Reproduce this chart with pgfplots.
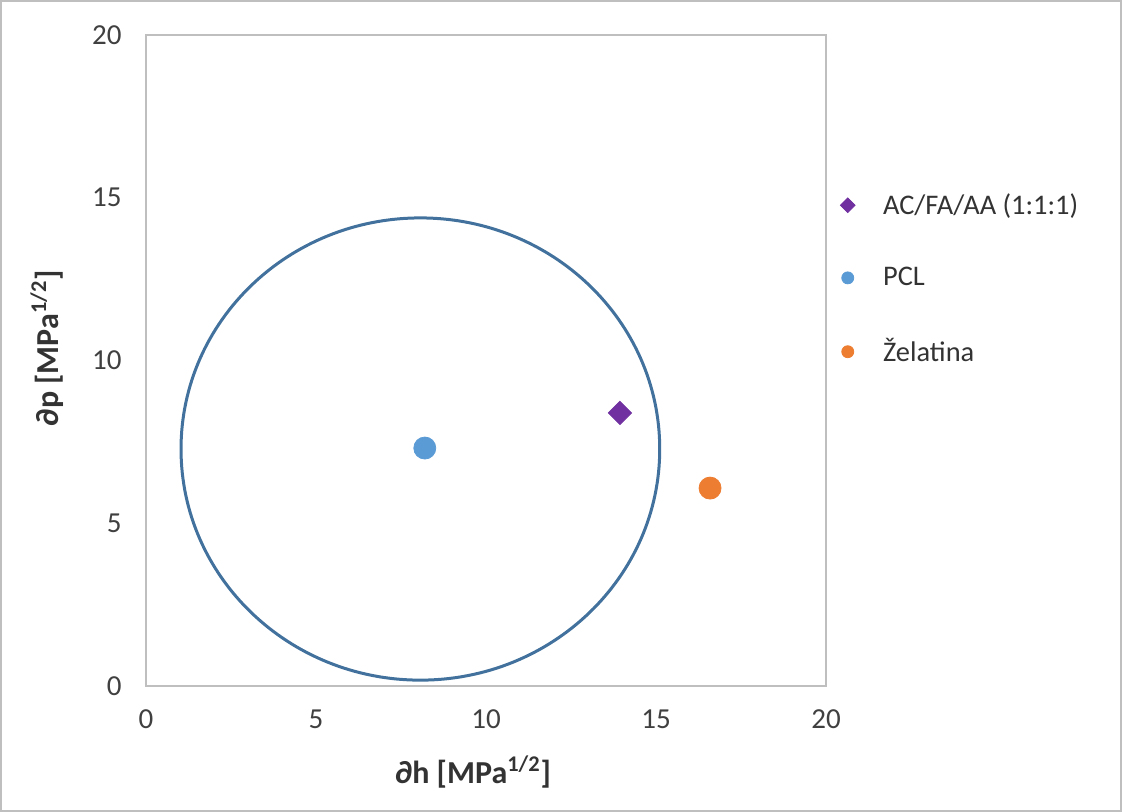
\documentclass[border=0pt]{standalone}
\usepackage{pgfplots}
\pgfplotsset{compat=1.18}
\usepackage{fontspec}
\setmainfont{Carlito}
\definecolor{circ}{HTML}{41719C}
\definecolor{pur}{HTML}{7030A0}
\definecolor{blu}{HTML}{5B9BD5}
\definecolor{ora}{HTML}{ED7D31}
\begin{document}
\begin{tikzpicture}
\begin{axis}[
  name=ax,
  scale only axis,
  width=340pt, height=325.5pt,
  xmin=0, xmax=20, ymin=0, ymax=20,
  xtick={0,5,10,15,20}, ytick={0,5,10,15,20},
  axis line style={draw=black!25, line width=0.8pt},
  tick style={draw=none},
  ticklabel style={font=\fontsize{14.5}{16}\selectfont, text=black!75},
  /pgf/number format/assume math mode=true,
  xticklabel style={yshift=-8.5pt},
  yticklabel style={xshift=-8.7pt},
  xlabel={\textbf{\fontsize{16}{18}\selectfont ∂h [MPa\textsuperscript{1/2}]}},
  ylabel={\textbf{\fontsize{16}{18}\selectfont ∂p [MPa\textsuperscript{1/2}]}},
  xlabel style={at={(0.481,-0.132)}, anchor=center, text=black!80},
  ylabel style={at={(-0.1456,0.519)}, anchor=center, text=black!80},
  legend style={draw=none, at={(1,1)}, anchor=north west, xshift=4pt, yshift=-75pt,
    font=\fontsize{14.2}{16}\selectfont, text=black!80, row sep=21pt,
    legend cell align=left,
    /tikz/every odd column/.append style={column sep=12pt}},
  clip=false,
]
\addplot[only marks, mark=square*, mark size=4.1pt, mark options={rotate=45}, color=pur, legend image post style={mark size=2.6pt}] coordinates {(13.94,8.39)};
\addlegendentry{AC/FA/AA (1:1:1)}
\addplot[only marks, mark=*, mark size=5.5pt, color=blu, legend image post style={mark size=3pt}] coordinates {(8.2,7.31)};
\addlegendentry{PCL}
\addplot[only marks, mark=*, mark size=5.5pt, color=ora, legend image post style={mark size=3pt}] coordinates {(16.59,6.08)};
\addlegendentry{Želatina}
\draw[circ, line width=1.5pt] (axis cs:8.07,7.28) ellipse [x radius=7.04, y radius=7.1];
\end{axis}
\draw[black!25, line width=0.6pt] ([shift={(-72.5pt,-62.5pt)}]ax.south west) rectangle ([shift={(-73pt+560.5pt,-63pt+405.5pt)}]ax.south west);
\useasboundingbox ([shift={(-73pt,-63pt)}]ax.south west) rectangle ([shift={(-73pt+562.5pt,-63pt+406pt)}]ax.south west);
\end{tikzpicture}
\end{document}
